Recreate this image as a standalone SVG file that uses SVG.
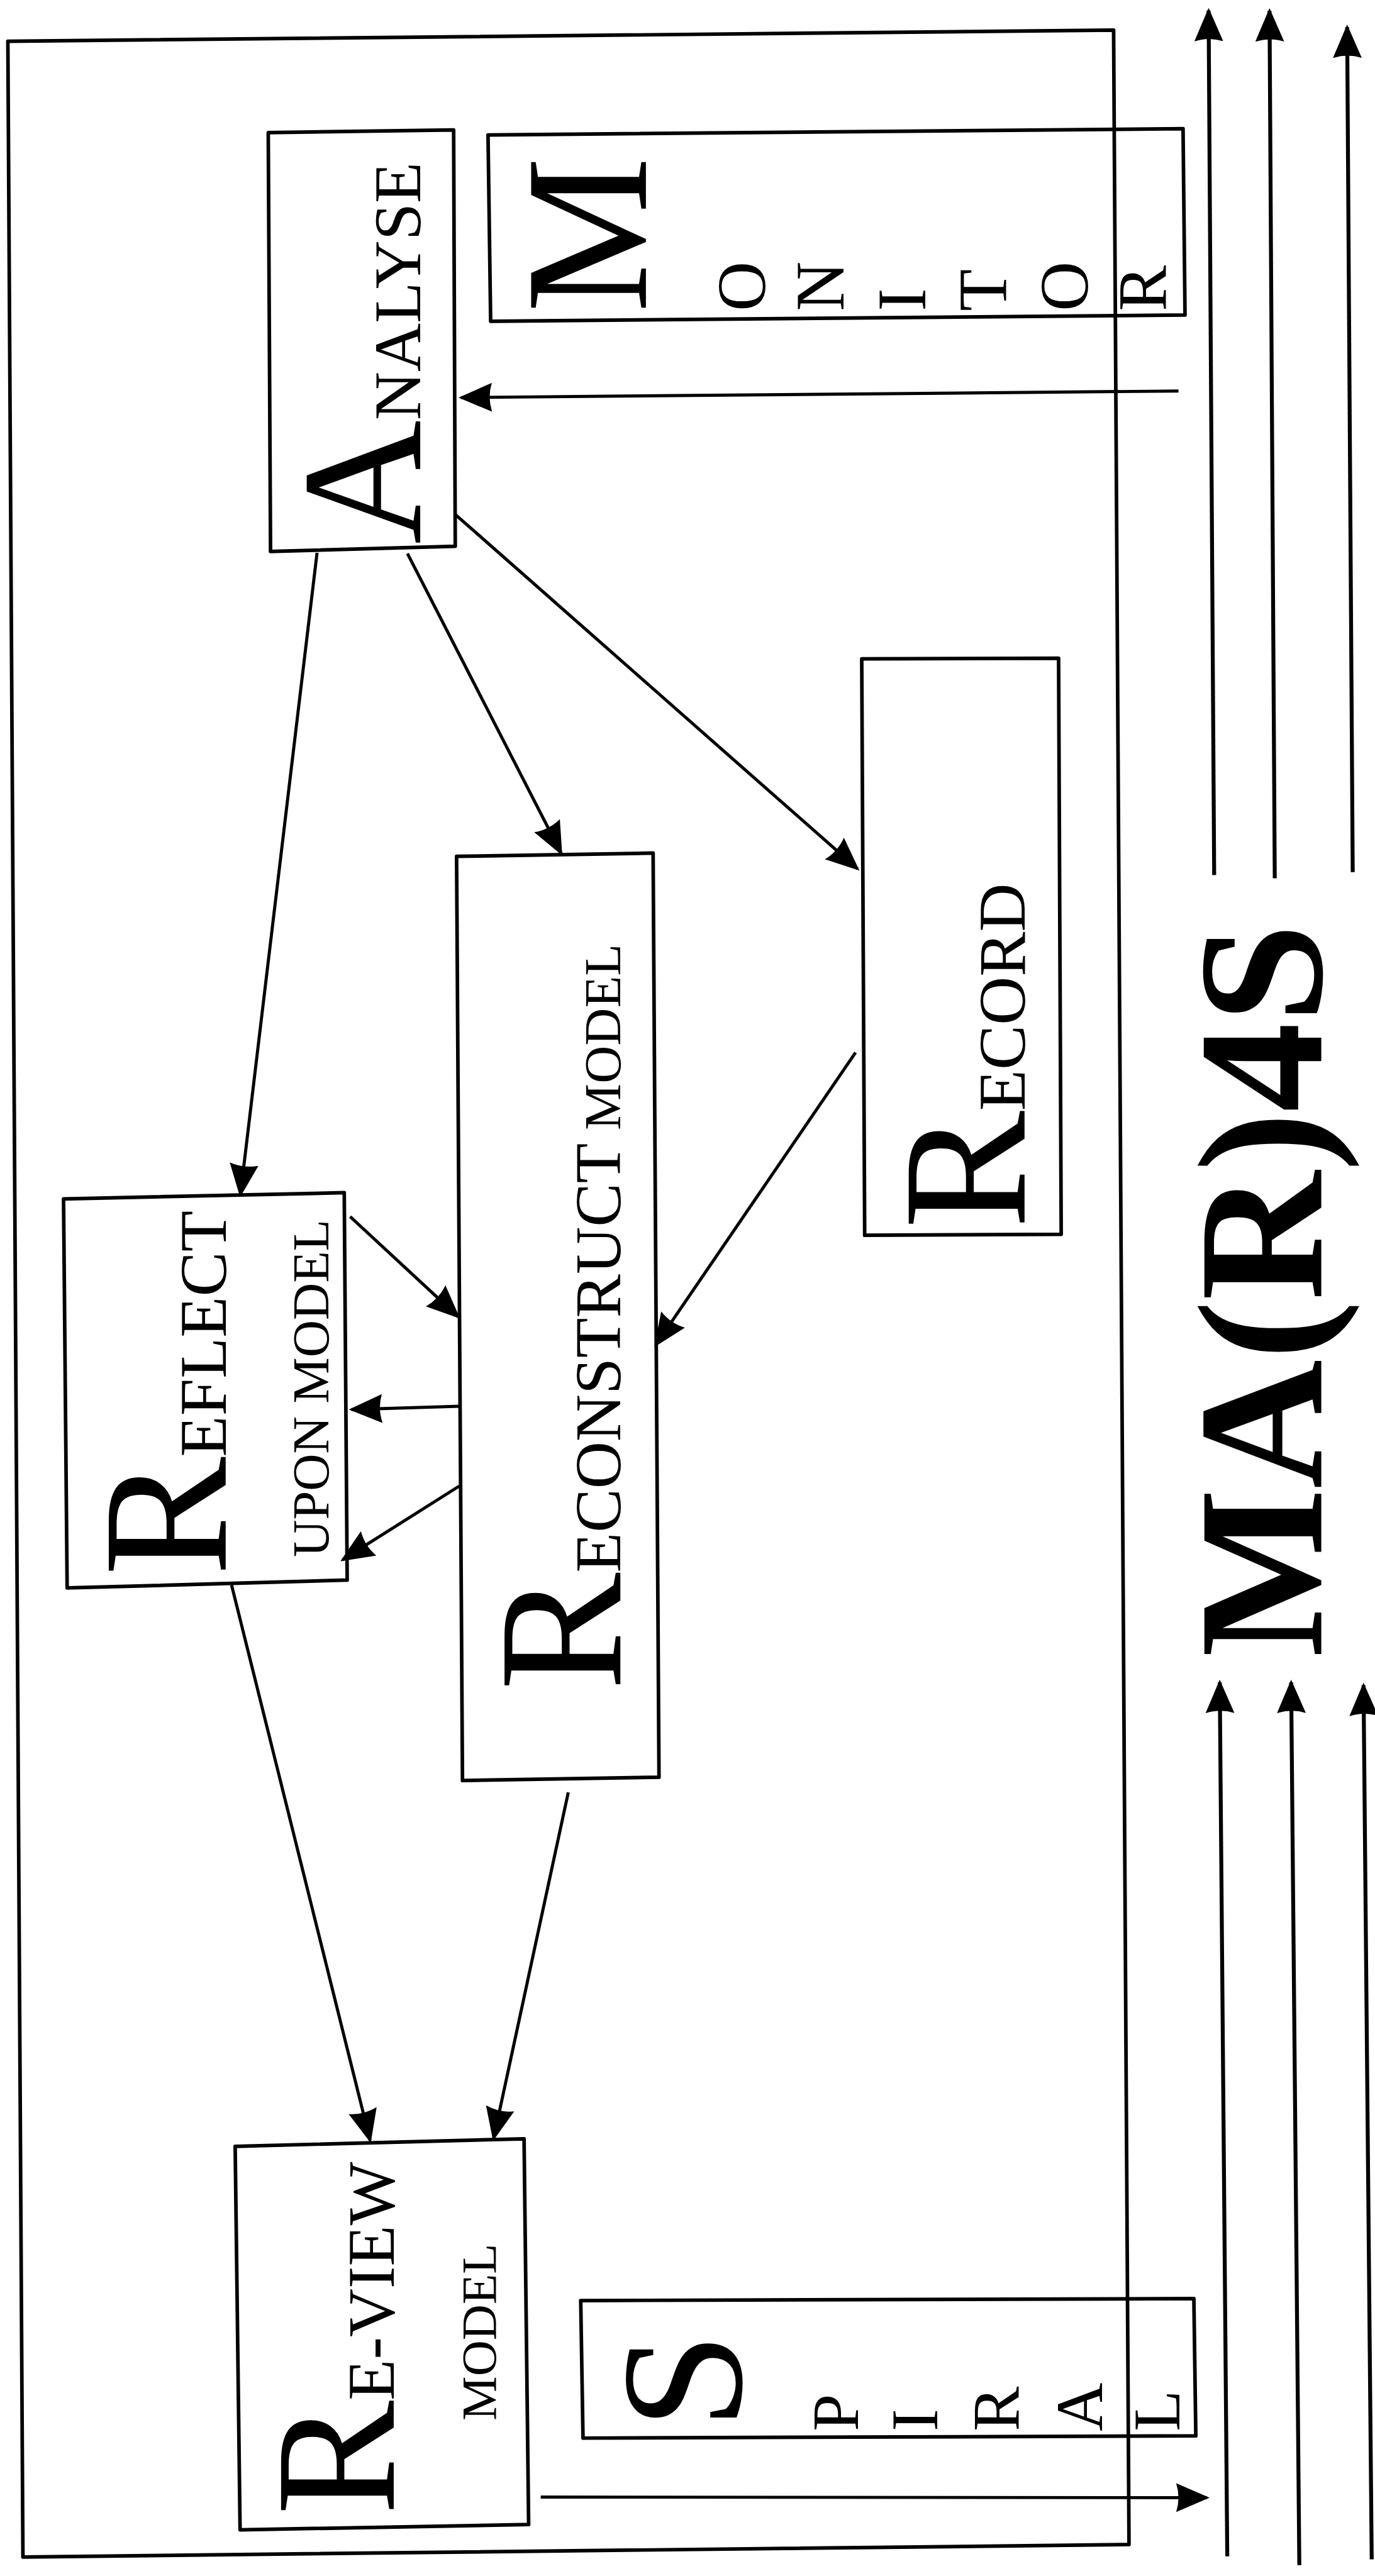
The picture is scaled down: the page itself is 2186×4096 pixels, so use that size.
<svg xmlns="http://www.w3.org/2000/svg" width="2186" height="4096" viewBox="0 0 2186 4096">
<defs>
<style>
.box{fill:none;stroke:#000;stroke-width:11;stroke-linejoin:round}
.conn{fill:none;stroke:#000;stroke-width:9.5;marker-end:url(#ah)}
.side{fill:none;stroke:#000;stroke-width:12;marker-end:url(#ah)}
text{font-family:"Liberation Serif","Times New Roman",serif;fill:#000}
</style>
<marker id="ah" markerUnits="userSpaceOnUse" markerWidth="105" markerHeight="94" viewBox="0 0 105 94" refX="94" refY="47" orient="auto">
<path d="M0,3 L102,47 L0,91 Q14,47 0,3 Z" fill="#000"/>
</marker>
</defs>
<rect x="0" y="0" width="2186" height="4096" fill="#fff"/>
<g transform="scale(0.52072)">
<g id="frame">
<polygon class="box" points="24,126 3400,92 3447,7770 70,7808"/>
</g>
<g id="connectors">
<path class="conn" d="M3598,1194 L1408,1214"/>
<path class="conn" d="M968,1688 L734,3648"/>
<path class="conn" d="M1244,1690 L1713,2605"/>
<path class="conn" d="M1389,1570 L2618,2653"/>
<path class="conn" d="M2612,3214 L2002,4107"/>
<path class="conn" d="M1069,3715 L1399,4021"/>
<path class="conn" d="M1404,4294 L1073,4304"/>
<path class="conn" d="M1402,4538 L1046,4763"/>
<path class="conn" d="M707,4840 L1130,6536"/>
<path class="conn" d="M1735,5473 L1507,6530"/>
<path class="conn" d="M1651,7625 L3685,7627"/>
<path class="side" d="M3707,2672 L3690,32"/>
<path class="side" d="M3892,2682 L3876,33"/>
<path class="side" d="M4130,2663 L4113,83"/>
<path class="side" d="M3747,7806 L3724,5137"/>
<path class="side" d="M3967,7833 L3942,5137"/>
<path class="side" d="M4188,7815 L4163,5146"/>
</g>
<g id="analyse">
<polygon class="box" points="819,405 1385,397 1390,1668 826,1684"/>
<text transform="translate(1283,1662) rotate(-90)"><tspan font-size="525">A</tspan><tspan font-size="205">NALYSE</tspan></text>
</g>
<g id="monitor">
<polygon class="box" points="1490,412 3612,393 3618,962 1498,981"/>
<text transform="translate(1972,955) rotate(-90)"><tspan x="0" y="0" font-size="535">M</tspan><tspan x="5" y="364" font-size="210">O</tspan><tspan x="5" y="603" font-size="210">N</tspan><tspan x="5" y="852" font-size="210">I</tspan><tspan x="5" y="1100" font-size="210">T</tspan><tspan x="5" y="1349" font-size="210">O</tspan><tspan x="5" y="1588" font-size="210">R</tspan></text>
</g>
<g id="record">
<polygon class="box" points="2631,2012 3232,2010 3240,3769 2640,3772"/>
<text transform="translate(3128,3752) rotate(-90)"><tspan font-size="540">R</tspan><tspan font-size="205">ECORD</tspan></text>
</g>
<g id="reconstruct">
<polygon class="box" points="1394,2615 1994,2605 2012,5427 1412,5437"/>
<text transform="translate(1894,5162) rotate(-90)"><tspan font-size="540">R</tspan><tspan font-size="200">ECONSTRUCT</tspan><tspan font-size="160"> MODEL</tspan></text>
</g>
<g id="reflect">
<polygon class="box" points="194,3661 1051,3642 1060,4825 205,4849"/>
<text transform="translate(689,4812) rotate(-90)"><tspan font-size="545">R</tspan><tspan font-size="205">EFLECT</tspan></text>
<text transform="translate(1002,4755) rotate(-90)" font-size="158">UPON MODEL</text>
</g>
<g id="review">
<polygon class="box" points="718,6554 1600,6531 1614,7709 733,7725"/>
<text transform="translate(1202,7680) rotate(-90)"><tspan font-size="525">R</tspan><tspan font-size="205">E-VIEW</tspan></text>
<text transform="translate(1514,7391) rotate(-90)" font-size="152">MODEL</text>
</g>
<g id="spiral">
<polygon class="box" points="1773,7025 3645,7019 3651,7438 1780,7445"/>
<text transform="translate(2262,7418) rotate(-90)"><tspan x="0" y="0" font-size="530">S</tspan><tspan x="-6" y="358" font-size="205">P</tspan><tspan x="-6" y="599" font-size="205">I</tspan><tspan x="-6" y="848" font-size="205">R</tspan><tspan x="-6" y="1103" font-size="205">A</tspan><tspan x="-6" y="1338" font-size="205">L</tspan></text>
</g>
<g id="title">
<text transform="translate(4034,5060) rotate(-90)" font-size="545" font-weight="bold">MA(R)4S</text>
</g>
</g>
</svg>
